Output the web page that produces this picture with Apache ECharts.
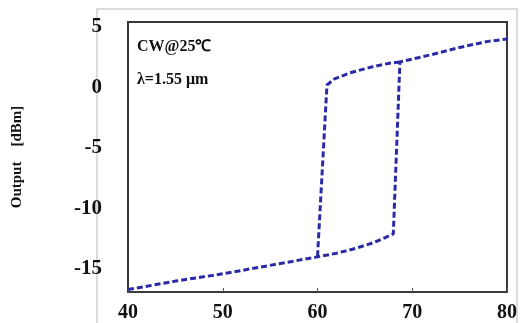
<!DOCTYPE html>
<html>
<head>
<meta charset="utf-8">
<script src="https://cdn.jsdelivr.net/npm/echarts@6/dist/echarts.min.js"></script>
<style>
  html, body { margin: 0; padding: 0; background: #ffffff; }
  #chart { width: 521px; height: 323px; }
</style>
</head>
<body>
<div id="chart"></div>
<script>
// Input power sweep (dBm) and measured output (dBm): bistable hysteresis loop
const sweepUpX   = [40, 45, 50, 55, 60, 62, 64, 66, 68.0, 68.7, 72, 75, 78, 80];
const sweepUpY   = [-16.7, -16.0, -15.4, -14.7, -14.0, -13.7, -13.3, -12.8, -12.1, 2.1, 2.7, 3.3, 3.8, 4.0];
const sweepDownX = [68.7, 67.6, 65.8, 63.4, 61.8, 61.0, 60.0];
const sweepDownY = [2.1, 2.0, 1.7, 1.2, 0.7, 0.2, -14.0];
const xTicks = [40, 50, 60, 70, 80];
const yTicks = [5, 0, -5, -10, -15];

const serif = "'Liberation Serif', 'Times New Roman', serif";
const lineColor = '#2a2aa6';

const pairs = (xs, ys) => xs.map((x, i) => [x, ys[i]]);

const lineStyle = { color: lineColor, width: 3, type: [6, 3] };

const chart = echarts.init(document.getElementById('chart'), null, { renderer: 'canvas' });
chart.setOption({
  animation: false,
  backgroundColor: '#ffffff',
  grid: {
    left: 128, right: 14, top: 22, bottom: 29,
    show: true, borderColor: '#3a3a3a', borderWidth: 2, backgroundColor: '#ffffff'
  },
  graphic: [
    {
      type: 'polyline', silent: true, z: -1,
      shape: { points: [[97, 323], [97, 9], [517, 9], [517, 323]] },
      style: { stroke: '#cfcfcf', lineWidth: 1.5, fill: null }
    },
    {
      type: 'text', left: 137, top: 39,
      style: { text: 'CW@25℃', font: 'bold 16px ' + serif, fill: '#111' }
    },
    {
      type: 'text', left: 137, top: 72,
      style: { text: 'λ=1.55 μm', font: 'bold 16px ' + serif, fill: '#111' }
    }
  ],
  xAxis: {
    type: 'value', min: 40, max: 80, interval: 10,
    axisLine: { show: true, onZero: false, lineStyle: { color: '#3a3a3a', width: 2 } },
    axisTick: { show: true, inside: true, length: 4, lineStyle: { color: '#555' }, customValues: xTicks },
    axisLabel: {
      customValues: xTicks, margin: 11,
      fontFamily: serif, fontWeight: 'bold', fontSize: 20, color: '#111'
    },
    splitLine: { show: false }
  },
  yAxis: {
    type: 'value', min: -16.9, max: 5.4,
    name: 'Output    [dBm]', nameLocation: 'middle', nameRotate: 90, nameGap: 103,
    nameTextStyle: { fontFamily: serif, fontWeight: 'bold', fontSize: 15, color: '#111' },
    axisLine: { show: true, onZero: false, lineStyle: { color: '#3a3a3a', width: 2 } },
    axisTick: { show: false },
    axisLabel: {
      customValues: yTicks, margin: 26,
      fontFamily: serif, fontWeight: 'bold', fontSize: 21, color: '#111'
    },
    splitLine: { show: false }
  },
  series: [
    {
      type: 'line', data: pairs(sweepUpX, sweepUpY),
      symbol: 'none', lineStyle: lineStyle, z: 3
    },
    {
      type: 'line', data: pairs(sweepDownX, sweepDownY),
      symbol: 'none', lineStyle: lineStyle, z: 3
    }
  ]
});
</script>
</body>
</html>
